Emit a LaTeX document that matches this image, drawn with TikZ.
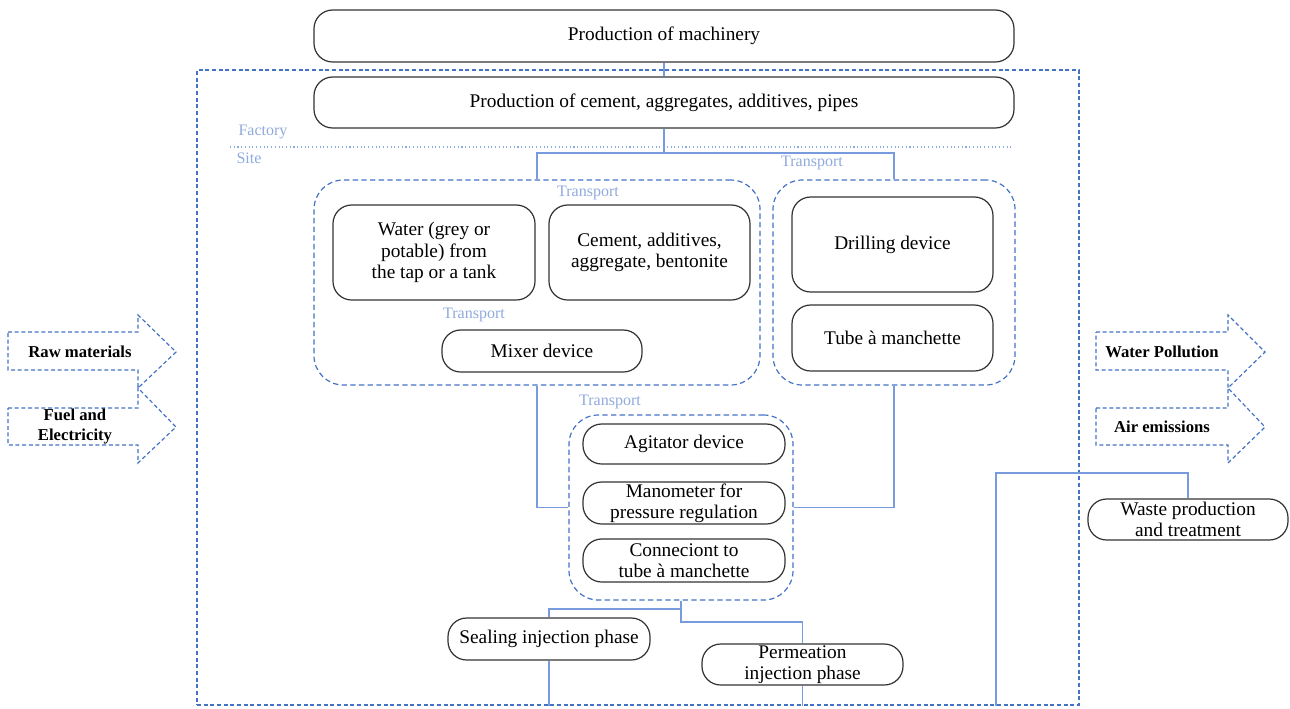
\documentclass[tikz,border=0pt]{standalone}
\usepackage{fontspec}
\setmainfont{Liberation Serif}
\definecolor{dblue}{RGB}{68,114,196}
\definecolor{lblue}{RGB}{143,170,220}
\definecolor{cblue}{RGB}{120,155,222}
\definecolor{bgray}{RGB}{50,50,50}
\begin{document}
\begin{tikzpicture}[x=0.75pt,y=-0.75pt,
 wh/.style 2 args={minimum width=#1*0.75pt, minimum height=#2*0.75pt},
 box/.style={draw=bgray, line width=0.9pt, rounded corners=14pt, align=center, inner sep=0.5pt, font=\fontsize{14.5}{16}\selectfont},
 grp/.style={draw=dblue, line width=0.9pt, rounded corners=22pt, dash pattern=on 4pt off 2.5pt, inner sep=0pt},
 outerbox/.style={draw=dblue, line width=0.9pt, dash pattern=on 3pt off 2pt, inner sep=0pt},
 lbl/.style={text=lblue, font=\fontsize{12}{13}\selectfont, inner sep=0pt},
 conn/.style={draw=cblue, line width=0.9pt},
 bigarrow/.style={draw=dblue, line width=0.9pt, dash pattern=on 3pt off 2pt},
 arrtxt/.style={font=\fontsize{12.5}{15}\selectfont\bfseries, align=center, inner sep=0pt}
]
\useasboundingbox (0,0) rectangle (1290,708);
\node[outerbox, wh={882}{635}] (outer) at (638,387.5) {};

\node[box, wh={700}{52}] (mach) at (664,36) {Production of machinery};
\node[box, wh={700}{51}] (cem) at (664,102.5) {Production of cement, aggregates, additives, pipes};
\node[lbl] (fac) at (263,132) {Factory};
\node[lbl] (site) at (249,158) {Site};
\draw[lblue, dotted, line width=0.8pt] (230,147) -- (1014,147);

\node[grp, wh={446}{205}] (lgrp) at (537,282.5) {};
\node[grp, wh={242}{205}] (rgrp) at (894,282.5) {};
\node[lbl] (t1) at (812,163) {Transport};
\node[lbl] (t2) at (588,193) {Transport};
\node[box, wh={202}{95}] (water) at (434,252.5) {Water (grey or\\potable) from\\the tap or a tank};
\node[box, wh={201}{95}] (cad) at (649.5,252.5) {Cement, additives,\\aggregate, bentonite};
\node[lbl] (t3) at (474,315) {Transport};
\node[box, wh={200}{42}] (mix) at (542,351) {Mixer device};
\node[box, wh={201}{95}] (drill) at (892.5,244.5) {Drilling device};
\node[box, wh={201}{66}] (tam) at (892.5,338) {Tube à manchette};

\node[lbl] (t4) at (610,402) {Transport};
\node[grp, wh={224}{185}] (agrp) at (681,507.5) {};
\node[box, wh={202}{40}] (agit) at (684,444) {Agitator device};
\node[box, wh={202}{42}] (mano) at (684,503) {Manometer for\\pressure regulation};
\node[box, wh={202}{43}] (conx) at (684,560.5) {Conneciont to\\tube à manchette};

\node[box, wh={202}{42}] (seal) at (549,639) {Sealing injection phase};
\node[box, wh={201}{41}] (perm) at (802.5,664.5) {Permeation\\injection phase};
\node[box, wh={200}{41}] (waste) at (1188,519.5) {Waste production\\and treatment};

% big arrows
\draw[bigarrow] (8,332) -- (138,332) -- (138,315) -- (176,352) -- (138,388) -- (138,370) -- (8,370) -- cycle;
\node[arrtxt] (raw) at (80,352) {Raw materials};
\draw[bigarrow] (8,408) -- (138,408) -- (138,388) -- (176,427) -- (138,463) -- (138,445) -- (8,445) -- cycle;
\node[arrtxt] (fuel) at (75,427) {Fuel and\\Electricity};
\draw[bigarrow] (1096,332) -- (1228,332) -- (1228,315) -- (1265,352) -- (1228,388) -- (1228,370) -- (1096,370) -- cycle;
\node[arrtxt] (wp) at (1162,352) {Water Pollution};
\draw[bigarrow] (1096,408) -- (1228,408) -- (1228,388) -- (1265,427) -- (1228,463) -- (1228,445) -- (1096,445) -- cycle;
\node[arrtxt] (air) at (1162,427) {Air emissions};

% connectors
\coordinate (jn) at (664,153);
\draw[conn] (mach.south) -- (cem.north);
\draw[conn] (cem.south) -- (jn);
\draw[conn] (lgrp.north) -- (lgrp.north |- jn) -- (rgrp.north |- jn) -- (rgrp.north);
\draw[conn] (lgrp.south) |- (agrp.west);
\draw[conn] (rgrp.south) |- (agrp.east);
\coordinate (s1) at (681,609);
\coordinate (s2) at (681,622);
\draw[conn] (agrp.south) -- (s1) -| (seal.north);
\draw[conn] (s1) -- (s2) -| (perm.north);
\draw[conn] (seal.south) -- (seal.south |- outer.south);
\draw[conn] (perm.south) -- (perm.south |- outer.south);
\coordinate (w1) at (996,473);
\draw[conn] (w1 |- outer.south) -- (w1) -| (waste.north);
\end{tikzpicture}
\end{document}
